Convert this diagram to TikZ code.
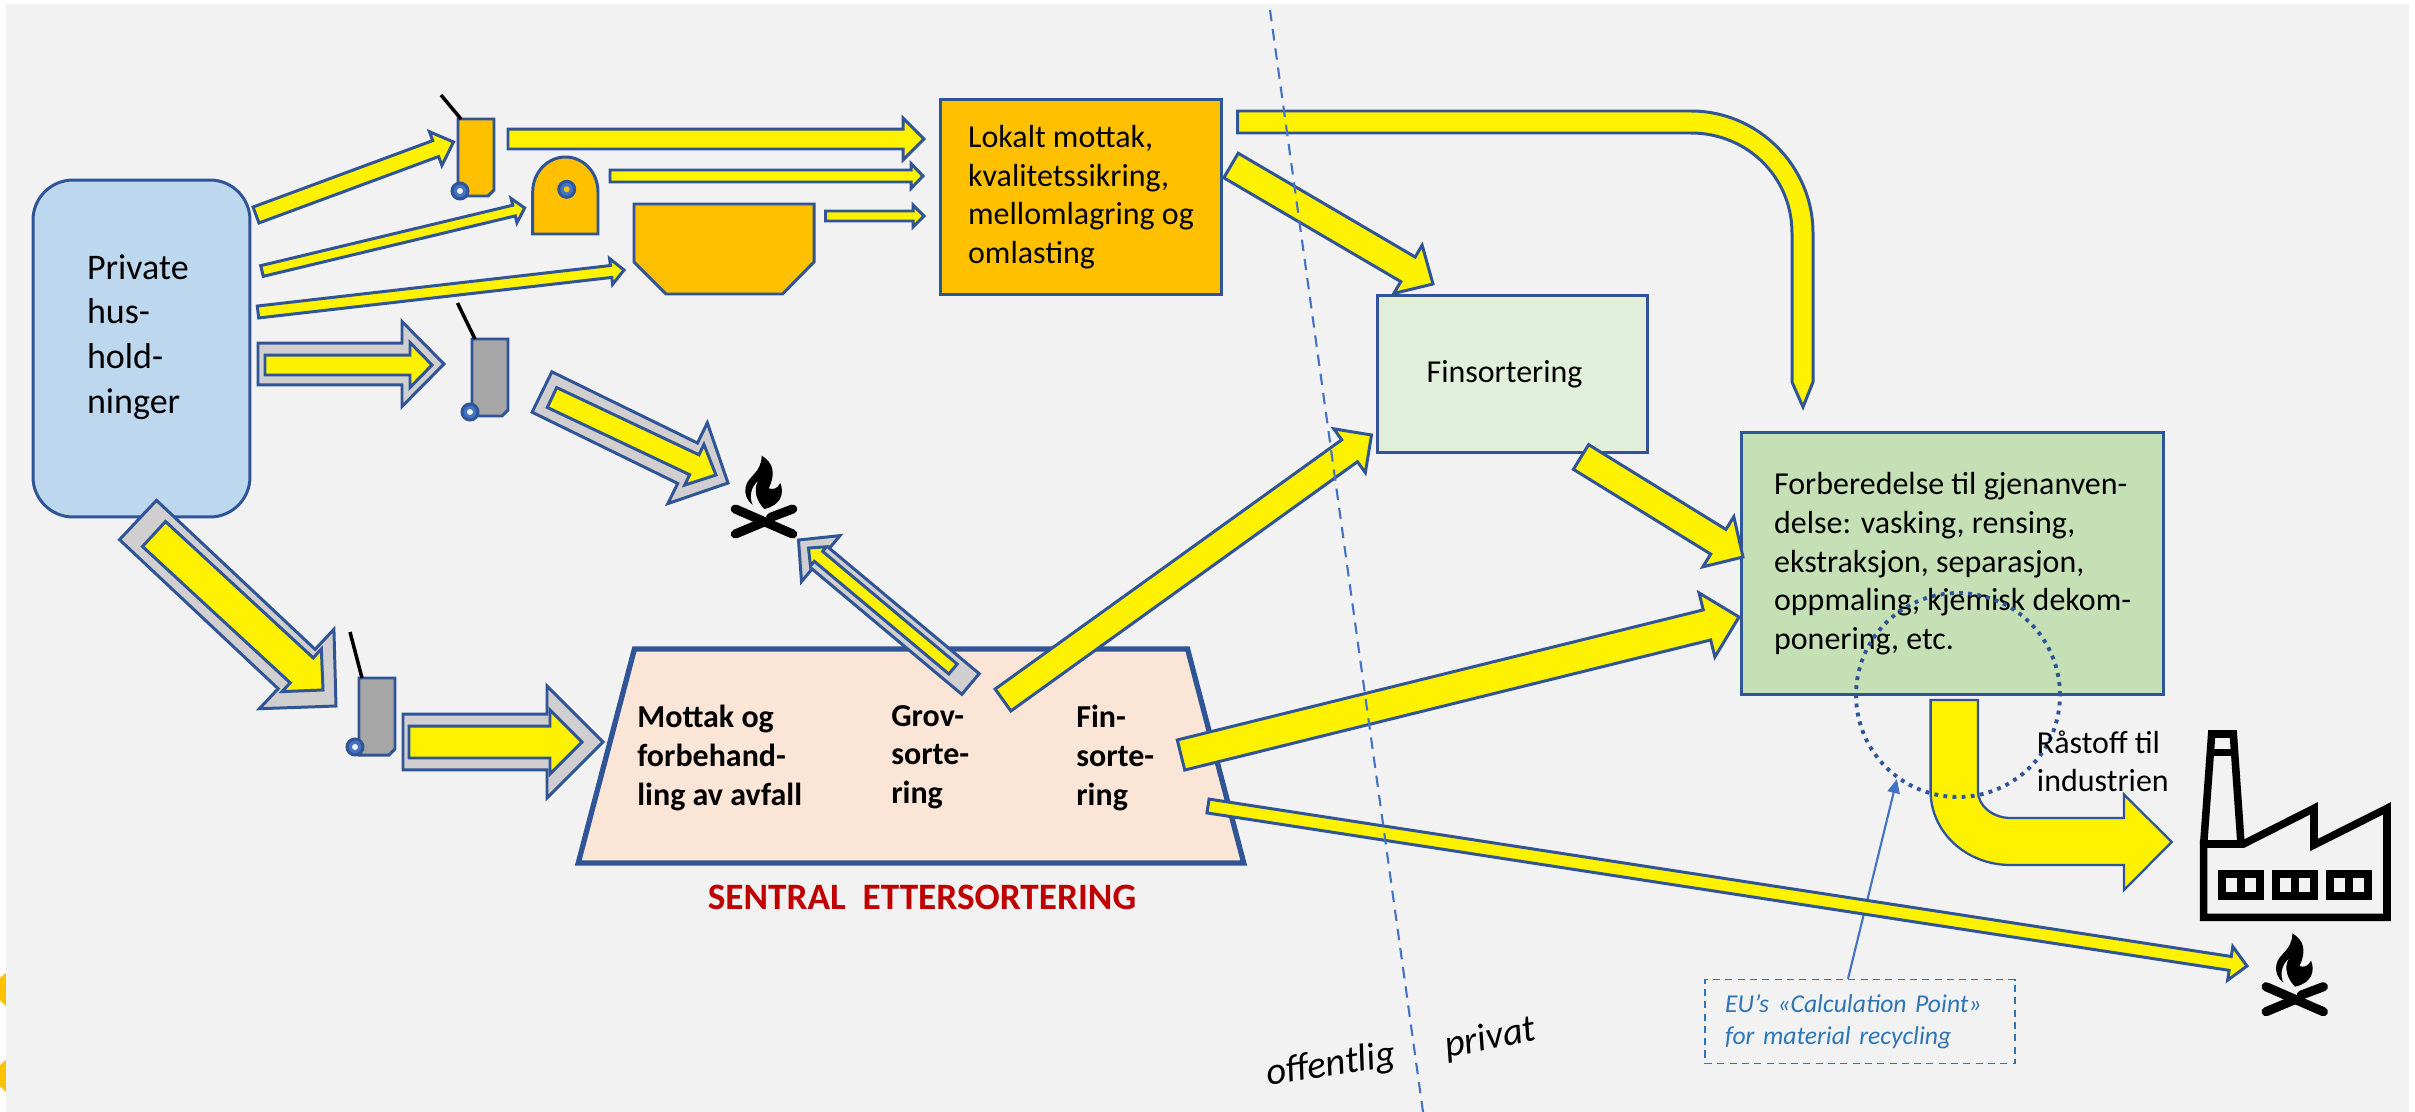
\documentclass[tikz,border=0pt]{standalone}
\usepackage{fontspec}
\setmainfont{Carlito}
\usetikzlibrary{calc}
\usetikzlibrary{arrows.meta}
\usetikzlibrary{shapes.geometric}

\definecolor{paneback}{HTML}{F2F2F2}
\definecolor{flowblue}{HTML}{2F5597}
\definecolor{lineblue}{HTML}{4472C4}
\definecolor{noteblue}{HTML}{2E75B6}
\definecolor{binorange}{HTML}{FFC000}
\definecolor{bingray}{HTML}{A6A6A6}
\definecolor{wastegray}{HTML}{D0CECE}
\definecolor{homeblue}{HTML}{BDD7EE}
\definecolor{fingreen}{HTML}{E2EFDA}
\definecolor{prepgreen}{HTML}{C5E0B4}
\definecolor{sentpeach}{HTML}{FBE5D6}
\definecolor{sentred}{HTML}{C00000}

\tikzset{
 flow/.style={draw=flowblue,fill=yellow,line width=1.7pt,miter limit=20},
 wasteflow/.style={flow,fill=wastegray},
 stepbox/.style={draw=flowblue,line width=1.7pt,align=left,font=\fontsize{18.2}{22}\selectfont},
 sorttext/.style={anchor=north west,inner sep=0pt,align=left,font=\fontsize{18.2}{22}\selectfont\bfseries},
 plaintext/.style={anchor=north west,inner sep=0pt,align=left,font=\fontsize{18.2}{22}\selectfont},
 sidetext/.style={anchor=base west,inner sep=0pt,rotate=9,font=\fontsize{22}{26}\selectfont\itshape},
 lid/.style={black,line width=2pt},
 wheel/.style={draw=flowblue,fill=lineblue,line width=1.7pt},
 wornlog/.style={black,line width=5.2pt,line cap=round},
 campfire/.pic={
  \fill[black,scale=1/3] (-7,-199) .. controls (28,-179) and (36,-145) .. (14,-101)
   .. controls (28,-96) and (40,-100) .. (49,-117)
   .. controls (62,-85) and (50,-50) .. (1,-39)
   .. controls (-20,-60) and (-35,-95) .. (-17,-124)
   .. controls (-40,-105) and (-45,-75) .. (-34,-51)
   .. controls (-50,-62) and (-60,-85) .. (-55,-105)
   .. controls (-48,-140) and (-8,-145) .. (-7,-199) -- cycle;
  \draw[wornlog,scale=1/3] (-86,-39) -- (86,36);
  \draw[wornlog,scale=1/3] (-86,36) -- (0,0);
  \draw[wornlog,scale=1/3] (86,-39) -- (20,-14);
 }
}

\newcommand{\flowarrow}[6][]{
 \coordinate (headbase) at ($(#3)!{#6*0.02cm}!(#2)$);
 \draw[flow,#1] ($(#2)!{#4*0.01cm}!90:(#3)$) -- ($(headbase)!{#4*0.01cm}!90:(#3)$)
  -- ($(headbase)!{#5*0.01cm}!90:(#3)$) -- (#3) -- ($(headbase)!{#5*0.01cm}!-90:(#3)$)
  -- ($(headbase)!{#4*0.01cm}!-90:(#3)$) -- ($(#2)!{#4*0.01cm}!-90:(#3)$) -- cycle;
}

\begin{document}
\begin{tikzpicture}[x=0.02cm, y=-0.02cm]

\useasboundingbox (0,0) rectangle (2415,1112);
\fill[white] (0,0) rectangle (2415,1112);
\fill[binorange] (0,978) -- (7,972) -- (7,1007) -- (0,1000) -- cycle;
\fill[binorange] (0,1065) -- (7,1059) -- (7,1093) -- (0,1086) -- cycle;
\fill[paneback] (6,4) rectangle (2409,1112);

\foreach \n/\x/\y in {hhA/256/215, binA/453.5/142, hhB/262/271, domeA/524.7/208, hhC/258/312, contA/624/270,
  hhD/258/364, binB/444/364, hhDi/265/365, binBi/432/365,
  hhE/138/520, binC/336/706, hhEi/154/534, binCi/323/690,
  binBo/542/392, fireA/728/483, binBoi/552/397.5, fireAi/716/475,
  binCo/403/742, sentIn/603/742, binCoi/409/742, sentIni/582/742,
  binAo/508/139, lokA/924/139, domeO/610/176, lokB/923/176, contO/825.5/216, lokC/924/216,
  lokO/1231/165.5, finIn/1433/284, finO/1581/457, prepA/1743/557,
  sentA/1003/700, finB/1371.5/435, sentB/1181/755, prepB/1739/617,
  sentC/1208/806, fireB/2247/966,
  sentD/970.5/684, fireC/798.5/540, sentDi/953/669, fireCi/808.5/548} {
 \coordinate (\n) at (\x,\y);
};

\node[stepbox,fill=homeblue,rounded corners=0.8cm,minimum width=4.34cm,minimum height=6.74cm,inner xsep=1.08cm,text width=2.18cm,font=\fontsize{20.5}{25.5}\selectfont] (home) at (141.5,348.5) {Private\\hus-\\hold-\\ninger\\[-9pt]~};
\node[stepbox,fill=binorange,minimum width=5.64cm,minimum height=3.92cm] (lokalt) at (1081,197) {Lokalt mottak,\\kvalitetssikring,\\mellomlagring og\\omlasting};
\node[stepbox,fill=fingreen,minimum width=5.39cm,minimum height=3.16cm,inner xsep=0.98cm,text width=3.43cm] (finsort) at (1512.3,374) {Finsortering};
\node[stepbox,fill=prepgreen,minimum width=8.43cm,minimum height=5.23cm] (prep) at (1952.6,563.7) {Forberedelse til gjenanven-\\delse: vasking, rensing,\\ekstraksjon, separasjon,\\oppmaling, kjemisk dekom-\\ponering, etc.};
\node[trapezium,trapezium stretches=true,trapezium angle=84.2,draw=flowblue,fill=sentpeach,line width=3pt,minimum width=13.32cm,minimum height=4.28cm] (sentral) at (911,756) {};

\node[sorttext] (mottak) at (637,705) {Mottak og\\forbehand-\\ling av avfall};
\node[sorttext] (grov) at (891,705) {Grov-\\sorte-\\ring};
\node[sorttext] (fin) at (1076,705) {Fin-\\sorte-\\ring};
\node[anchor=base,inner sep=0pt,text=sentred,font=\fontsize{21.2}{25}\selectfont\bfseries] (sentname) at (922,909) {SENTRAL\ \ ETTERSORTERING};

\foreach \x/\y/\c/\lx/\ly/\wx/\wy in {458/119/binorange/441/95/460/191, 472/339/bingray/457.5/303/470/412, 359/678/bingray/350/632/355/747} {
 \draw[flowblue,line width=1.7pt,fill=\c] (\x,\y) -- ++(36,0) -- ++(0,71) -- ++(-6,6) -- ++(-30,0) -- cycle;
 \draw[lid] (\lx,\ly) -- (\x+3,\y);
 \draw[wheel] (\wx,\wy) circle [radius=8];
 \fill[paneback] (\wx,\wy) circle [radius=3];
};
\draw[flowblue,line width=1.7pt,fill=binorange] (532.7,234) -- (532.7,192) .. controls (532.7,172) and (548,157) .. (565.5,157) .. controls (583,157) and (598,172) .. (598,192) -- (598,234) -- cycle;
\draw[wheel] (566.7,189.3) circle [radius=8];
\fill[binorange] (566.7,189.3) circle [radius=3];
\draw[flowblue,line width=1.7pt,fill=binorange] (634,204) -- (814,204) -- (814,262) -- (782.5,294) -- (666,294) -- (634,262) -- cycle;

\flowarrow{hhA}{binA}{17}{36}{19}
\flowarrow{hhB}{domeA}{11}{25}{11}
\flowarrow{hhC}{contA}{12}{26}{13}
\flowarrow[wasteflow]{hhD}{binB}{42}{85}{42}
\flowarrow{hhDi}{binBi}{20}{45}{22}
\flowarrow[wasteflow]{hhE}{binC}{54}{109}{54}
\flowarrow{hhEi}{binCi}{34}{58}{29}
\flowarrow[wasteflow]{binBo}{fireA}{45}{90}{45}
\flowarrow{binBoi}{fireAi}{22}{45}{24}
\flowarrow[wasteflow]{binCo}{sentIn}{56}{112}{56}
\flowarrow{binCoi}{sentIni}{32}{64}{32}
\flowarrow{binAo}{lokA}{20}{42}{21}
\flowarrow{domeO}{lokB}{12}{25}{12}
\flowarrow{contO}{lokC}{10}{22}{11}
\flowarrow{lokO}{finIn}{28.5}{56}{29}
\flowarrow{finO}{prepA}{29}{59}{29}
\flowarrow{sentA}{finB}{27}{54}{27}
\flowarrow{sentB}{prepB}{31}{66}{33}
\flowarrow[wasteflow]{sentD}{fireC}{27}{60}{29}
\flowarrow{sentDi}{fireCi}{13}{25}{13}

\draw[flow] (1237.6,111) -- (1691,111) .. controls (1758,111) and (1813,166) .. (1813,233) -- (1813,382) -- (1803,407) -- (1792,382) -- (1792,233) .. controls (1792,177) and (1747,133) .. (1691,133) -- (1237.6,133) -- cycle;
\draw[flow,line width=1.3pt] (1930.6,700) -- (1930.6,791) .. controls (1930.6,832) and (1966,865) .. (2010.6,865) -- (2124,865) -- (2124,890) -- (2171.7,842) -- (2124,794.5) -- (2124,818) -- (2010.6,818) .. controls (1993,818) and (1977.9,806) .. (1977.9,791) -- (1977.9,700) -- cycle;

\node[draw=noteblue,dash pattern=on 4pt off 3pt,line width=0.8pt,minimum width=6.2cm,minimum height=1.68cm,inner xsep=0.4cm,text width=5.4cm,align=left,text=noteblue,font=\fontsize{14.6}{18.2}\selectfont\itshape] (eu) at (1860,1021.5) {EU’s «Calculation Point»\\for material recycling};
\node[circle,draw=flowblue,line width=2.2pt,dash pattern=on 2.2pt off 3pt,minimum size=4.08cm,inner sep=0pt] (ring) at (1958,695) {};
\draw[lineblue,line width=1.2pt,-{Triangle[length=8pt,width=7pt]}] ($(eu.north)+(-12,0)$) -- (ring.234);
\flowarrow{sentC}{fireB}{14}{34}{17}
\node[plaintext] (raw) at (2036.6,730) {Råstoff til\\industrien};

\draw[lineblue,line width=1.2pt,dash pattern=on 6.5pt off 4.5pt] (1270,10) -- (1423,1112);
\node[sidetext] (public) at (1268,1086) {offentlig};
\node[sidetext,rotate=2] (private) at (1447,1058) {privat};

\pic at (2294.7,999.7) {campfire};
\pic at (764,522) {campfire};

\begin{scope}[shift={(2180,710)},scale=1/3]
 \draw[black,line width=4.3pt,miter limit=20] (190,402) -- (402,295) -- (402,405) -- (621,295) -- (621,622) -- (71,622) -- (71,402) -- cycle;
 \draw[black,line width=4.3pt,miter limit=20] (71,402) -- (95,72) -- (160,72) -- (183,402);
 \draw[black,line width=4.3pt] (91,128) -- (165,128);
 \foreach \x in {115,277,439} {
  \fill[black] (\x,481) rectangle ++(138,90);
  \fill[paneback] (\x+24,505) rectangle ++(33,42);
  \fill[paneback] (\x+81,505) rectangle ++(33,42);
 };
\end{scope}

\end{tikzpicture}
\end{document}
